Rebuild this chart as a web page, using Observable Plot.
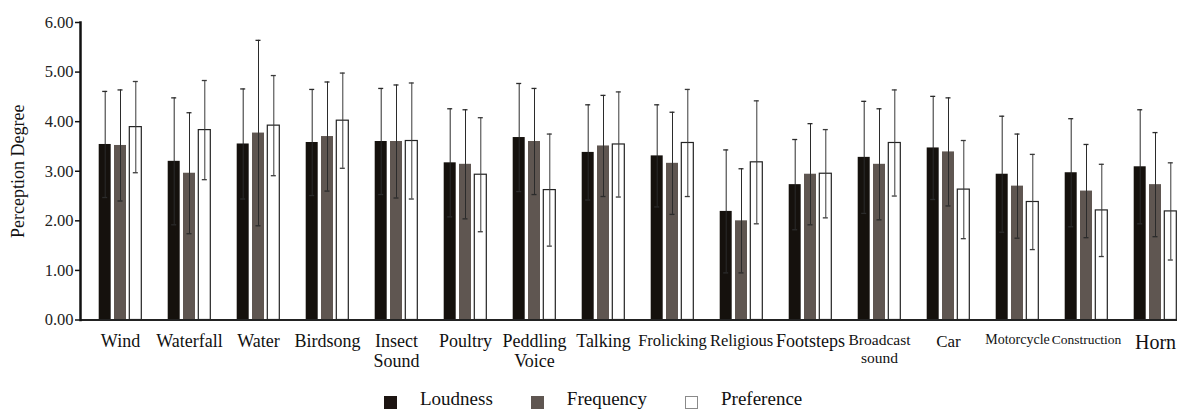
<!DOCTYPE html>
<html>
<head>
<meta charset="utf-8">
<script src="https://cdn.jsdelivr.net/npm/d3@7"></script>
<script src="https://cdn.jsdelivr.net/npm/@observablehq/plot@0.6"></script>
<style>
  html, body { margin: 0; padding: 0; background: #ffffff; }
  #wrap { position: relative; width: 1177px; height: 409px; overflow: hidden; font-family: "Liberation Serif", "Times New Roman", serif; }
  #chart svg { display: block; overflow: hidden; }
  #legend { position: absolute; left: 384px; top: 389px; display: flex; align-items: center; font-family: "Liberation Serif", "Times New Roman", serif; font-size: 19px; color: #111; line-height: 20px; }
  #legend .item { display: flex; align-items: center; }
  #legend .sw { width: 13px; height: 13px; box-sizing: border-box; margin-right: 23px; margin-top: 6px; }
  #legend .lab { margin-right: 38px; }
</style>
</head>
<body>
<div id="wrap">
  <div id="chart"></div>
  <div id="legend"></div>
</div>
<script>
// ---- data ----
const categories = ["Wind", "Waterfall", "Water", "Birdsong", "Insect\nSound", "Poultry", "Peddling\nVoice", "Talking", "Frolicking", "Religious", "Footsteps", "Broadcast\nsound", "Car", "Motorcycle", "Construction", "Horn"];
const series = ["Loudness", "Frequency", "Preference"];
const loudness     = [3.54, 3.20, 3.55, 3.58, 3.60, 3.17, 3.68, 3.38, 3.31, 2.19, 2.73, 3.28, 3.47, 2.94, 2.97, 3.09];
const loudnessSD   = [1.07, 1.28, 1.11, 1.07, 1.07, 1.09, 1.09, 0.96, 1.03, 1.24, 0.91, 1.13, 1.04, 1.17, 1.09, 1.15];
const frequency    = [3.52, 2.96, 3.77, 3.70, 3.60, 3.14, 3.60, 3.51, 3.16, 2.00, 2.94, 3.14, 3.39, 2.70, 2.60, 2.73];
const frequencySD  = [1.12, 1.22, 1.87, 1.10, 1.14, 1.10, 1.07, 1.02, 1.03, 1.05, 1.02, 1.12, 1.09, 1.05, 0.94, 1.05];
const preference   = [3.89, 3.83, 3.92, 4.02, 3.61, 2.93, 2.62, 3.54, 3.57, 3.18, 2.95, 3.57, 2.63, 2.38, 2.21, 2.19];
const preferenceSD = [0.92, 1.00, 1.01, 0.96, 1.17, 1.15, 1.13, 1.06, 1.08, 1.24, 0.89, 1.07, 0.99, 0.96, 0.93, 0.98];
const yTicks = [0, 1, 2, 3, 4, 5, 6];
const yLabel = "Perception Degree";

// ---- table built from the arrays ----
const valuesBySeries = {Loudness: [loudness, loudnessSD], Frequency: [frequency, frequencySD], Preference: [preference, preferenceSD]};
const rows = [];
for (const s of series) {
  const [vals, sds] = valuesBySeries[s];
  categories.forEach((c, i) => rows.push({category: c, series: s, value: vals[i], sd: sds[i]}));
}

// ---- styles ----
const FONT = "'Liberation Serif', 'Times New Roman', serif";
const offset = {Loudness: -15.3, Frequency: 0, Preference: 15.3};
const fill = {Loudness: "#15110d", Frequency: "#5f5651", Preference: "#ffffff"};
const stroke = {Loudness: "none", Frequency: "none", Preference: "#222222"};
const errColor = {Loudness: "#2b2b2b", Frequency: "#2b2b2b", Preference: "#3a3a3a"};
const labelSize = (c) => ({"Broadcast\nsound": 15.5, "Motorcycle": 14, "Construction": 13.5, "Horn": 20, "Car": 17, "Frolicking": 16.5, "Religious": 16.5}[c] ?? 18);

const marks = [];
for (const s of series) {
  const d = rows.filter(r => r.series === s);
  marks.push(Plot.barY(d, {x: "category", y: "value", fill: fill[s], stroke: stroke[s], strokeWidth: 1.2, dx: offset[s]}));
}
for (const s of series) {
  const d = rows.filter(r => r.series === s);
  marks.push(Plot.ruleX(d, {x: "category", y1: r => r.value - r.sd, y2: r => r.value + r.sd, dx: offset[s], stroke: errColor[s], strokeWidth: 1}));
  marks.push(Plot.tickY(d, {x: "category", y: r => r.value + r.sd, dx: offset[s], insetLeft: 3.5, insetRight: 3.5, stroke: errColor[s], strokeWidth: 1.3}));
  marks.push(Plot.tickY(d, {x: "category", y: r => r.value - r.sd, dx: offset[s], insetLeft: 3.5, insetRight: 3.5, stroke: errColor[s], strokeWidth: 1.3}));
}
marks.push(Plot.ruleY([0], {stroke: "#222", strokeWidth: 2}));
marks.push(Plot.frame({anchor: "left", stroke: "#111", strokeWidth: 2.5}));
marks.push(Plot.axisY({ticks: yTicks, tickFormat: d => d.toFixed(2), tickSize: 5, tickPadding: 2, fontSize: 16.5, label: null, stroke: "#111", strokeWidth: 1.5, fill: "#222"}));
marks.push(Plot.text([yLabel], {frameAnchor: "left", textAnchor: "middle", lineAnchor: "middle", dx: -62, rotate: -90, fontSize: 18, fill: "#111"}));
marks.push(Plot.text(categories, {x: d => d, frameAnchor: "bottom", textAnchor: "middle", lineAnchor: "top", dy: 13, fontSize: labelSize, lineHeight: 1.12, fill: "#111"}));

const chart = Plot.plot({
  width: 1177,
  height: 380,
  marginTop: 22,
  marginBottom: 60.5,
  marginLeft: 80,
  marginRight: 0,
  style: {fontFamily: FONT, background: "#ffffff", color: "#111"},
  x: {domain: categories, range: [81.8, 1192.2], paddingInner: 0.827, paddingOuter: 0.4135, axis: null},
  y: {domain: [0, 6]},
  marks
});
document.getElementById("chart").appendChild(chart);

// ---- legend ----
const legend = document.getElementById("legend");
const swatchBorder = {Loudness: "none", Frequency: "none", Preference: "1px solid #8a8a8a"};
const legendFill = {Loudness: "#1d1512", Frequency: "#5f5651", Preference: "#ffffff"};
series.forEach(s => {
  const item = document.createElement("div");
  item.className = "item";
  const sw = document.createElement("div");
  sw.className = "sw";
  sw.style.background = legendFill[s];
  sw.style.border = swatchBorder[s];
  const lab = document.createElement("span");
  lab.className = "lab";
  lab.textContent = s;
  item.appendChild(sw);
  item.appendChild(lab);
  legend.appendChild(item);
});
</script>
</body>
</html>
